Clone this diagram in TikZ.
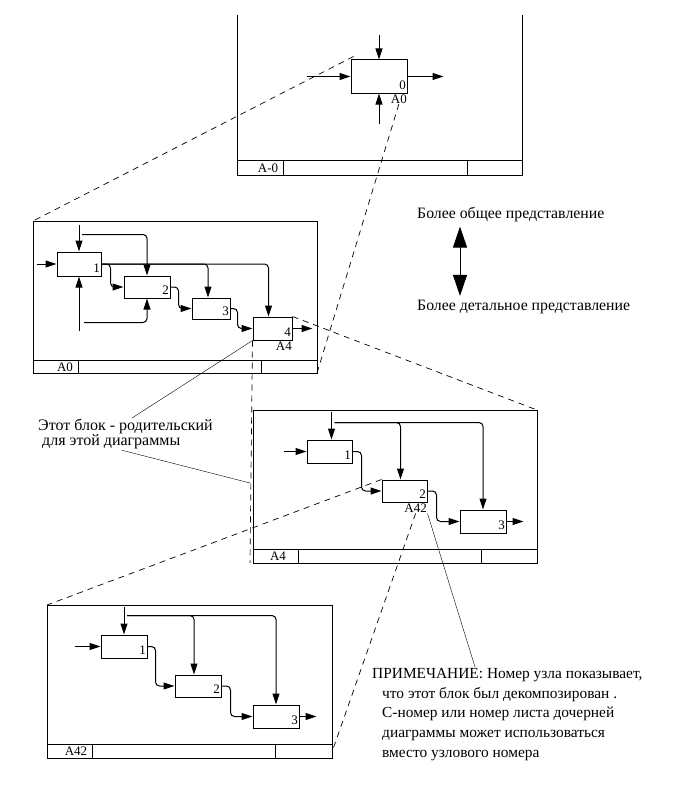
\documentclass[tikz,border=0pt]{standalone}
\usepackage{fontspec}
\setmainfont{Liberation Serif}
\usetikzlibrary{arrows.meta}

\tikzset{
  blk/.style={draw, line width=1pt, minimum width=46pt, minimum height=23pt, inner sep=0pt},
  boxno/.style={label={[font=\fontsize{13}{13}\selectfont, anchor=south east, inner xsep=1.5pt, inner ysep=3.5pt]south east:#1}},
  refl/.style={font=\fontsize{13}{13}\selectfont, inner sep=1pt},
  arr/.style={line width=1pt, -{Triangle[length=11pt,width=7pt]}},
  rc/.style={rounded corners=4pt},
  frm/.style={line width=1pt},
  lnk/.style={line width=0.7pt, dash pattern=on 6pt off 5pt},
  txt/.style={font=\fontsize{15.8}{19.7}\selectfont, inner sep=1pt, align=left},
  dbl/.style={line width=1pt, {Triangle[length=21pt,width=14pt]}-{Triangle[length=21pt,width=14pt]}, shorten <=3pt, shorten >=3pt},
}

\begin{document}
\begin{tikzpicture}[x=1pt, y=-1pt]
  \useasboundingbox (0,0) rectangle (674,808);

  % A-0 sheet
  \draw[frm] (237,15) -- (237,175) -- (522,175) -- (522,15);
  \draw[frm] (237,160) -- (522,160);
  \draw[frm] (283,160) -- (283,175);
  \draw[frm] (467,160) -- (467,175);
  \node[refl] (fa) at (268,168) {A-0};
  \node[blk, minimum width=56pt, minimum height=33pt, boxno=0] (t0) at (379,76.5) {};
  \node[refl, anchor=north east, inner sep=0.5pt] (t0ref) at ([yshift=-0.5pt]t0.south east) {A0};
  \draw[arr] (t0.west) ++(-44,0) -- (t0.west);
  \draw[arr] (t0.north) ++(0,-24) -- (t0.north);
  \draw[arr] (t0.south) ++(0,30) -- (t0.south);
  \draw[arr] (t0.east) -- ++(36,0);

  % A0 sheet
  \draw[frm] (33,221) rectangle (317,373);
  \draw[frm] (33,360) -- (317,360);
  \draw[frm] (78,360) -- (78,373);
  \draw[frm] (261,360) -- (261,373);
  \node[refl] (fb) at (65,367) {A0};
  \node[blk, minimum width=44pt, minimum height=24pt, boxno=1] (b1) at (79,264) {};
  \node[blk, minimum height=22pt, boxno=2] (b2) at (147,287) {};
  \node[blk, minimum width=38pt, minimum height=21pt, boxno=3] (b3) at (211,308.5) {};
  \node[blk, minimum width=39pt, boxno=4] (b4) at (272.5,328.5) {};
  \node[refl, anchor=north east, inner sep=0.5pt] (b4ref) at ([yshift=-1pt]b4.south east) {A4};
  \draw[arr] (b1.west) ++(-20,0) -- (b1.west);
  \draw[arr] (b1.north) ++(0,-27) -- (b1.north);
  \draw[arr, rc] (b1.north) ++(3,-17) -| (b2.north);
  \draw[arr] (b1.south) ++(0,54) -- (b1.south);
  \draw[arr, rc] (b1.south) ++(5,46) -| (b2.south);
  \draw[arr, rc] (b1.east) -| ([xshift=-4pt]b4.north);
  \draw[arr, rc] (b1.east) -| ([xshift=-3pt]b3.north);
  \draw[arr, rc] (b1.east) -- ++(9,0) |- (b2.west);
  \draw[arr, rc] (b2.east) -- ++(8,0) |- (b3.west);
  \draw[arr, rc] (b3.east) -- ++(7,0) |- (b4.west);
  \draw[arr] (b4.east) -- ++(20,0);

  % A4 sheet
  \draw[frm] (253,410) rectangle (537,563);
  \draw[frm] (253,549) -- (537,549);
  \draw[frm] (298,549) -- (298,563);
  \draw[frm] (481,549) -- (481,563);
  \node[refl] (fc) at (278,556) {A4};
  \node[blk, minimum width=45pt, boxno=1] (c1) at (329.5,451.5) {};
  \node[blk, minimum width=45pt, minimum height=22pt, boxno=2] (c2) at (404.5,491) {};
  \node[blk, boxno=3] (c3) at (483,521.5) {};
  \node[refl, anchor=north east, inner sep=0.5pt] (c2ref) at ([yshift=-1pt]c2.south east) {A42};
  \draw[arr] (c1.west) ++(-23,0) -- (c1.west);
  \draw[arr] ([xshift=2pt]c1.north) ++(0,-28) -- ([xshift=2pt]c1.north);
  \draw[arr, rc] ([xshift=2pt]c1.north) ++(3,-17) -| (c3.north);
  \draw[arr, rc] ([xshift=2pt]c1.north) ++(3,-17) -| ([xshift=-4pt]c2.north);
  \draw[arr, rc] (c1.east) -- ++(9,0) |- (c2.west);
  \draw[arr, rc] (c2.east) -- ++(9,0) |- (c3.west);
  \draw[arr] (c3.east) -- ++(17,0);

  % A42 sheet
  \draw[frm] (47,605) rectangle (332,758);
  \draw[frm] (47,744) -- (332,744);
  \draw[frm] (92,744) -- (92,758);
  \draw[frm] (275,744) -- (275,758);
  \node[refl] (fd) at (76,751) {A42};
  \node[blk, boxno=1] (d1) at (124,646.5) {};
  \node[blk, minimum height=22pt, boxno=2] (d2) at (198,686) {};
  \node[blk, boxno=3] (d3) at (276,716.5) {};
  \draw[arr] (d1.west) ++(-26,0) -- (d1.west);
  \draw[arr] (d1.north) ++(0,-28) -- (d1.north);
  \draw[arr, rc] (d1.north) ++(3,-19) -| (d3.north);
  \draw[arr, rc] (d1.north) ++(3,-19) -| ([xshift=-4pt]d2.north);
  \draw[arr, rc] (d1.east) -- ++(8,0) |- (d2.west);
  \draw[arr, rc] (d2.east) -- ++(9,0) |- (d3.west);
  \draw[arr] (d3.east) -- ++(17,0);

  % sheet corners
  \coordinate (f1tl) at (33,221);
  \coordinate (f1br) at (317,373);
  \coordinate (f2tr) at (537,410);
  \coordinate (f2bl) at (250,563);
  \coordinate (f2l) at (250,483);
  \coordinate (f3tl) at (47,605);
  \coordinate (f3br) at (332,752);

  % parent-child links
  \draw[lnk] ([yshift=3pt,xshift=3pt]t0.north west) -- (f1tl);
  \draw[lnk] (t0ref.south) -- (f1br);
  \draw[lnk] (b4.north east) -- (f2tr);
  \draw[lnk] (b4.south west) -- (f2bl);
  \draw[lnk] (c2.north west) -- (f3tl);
  \draw[lnk] (c2ref.south) -- (f3br);

  % notes
  \node[txt, anchor=west] (gen) at (416,215) {Более общее представление};
  \node[txt, anchor=west] (det) at (416,307) {Более детальное представление};
  \draw[dbl] ([xshift=44pt]gen.south west) -- ([xshift=44pt]det.north west);
  \node[txt, anchor=north west, font=\fontsize{16}{15}\selectfont] (note1) at (37,418)
    {Этот блок - родительский\\\hspace{4pt}для этой диаграммы};
  \node[txt, anchor=north west, font=\fontsize{15.4}{19.7}\selectfont] (note2) at (371,667)
    {ПРИМЕЧАНИЕ: Номер узла показывает,\\
     \hspace{10pt}что этот блок был декомпозирован .\\
     \hspace{10pt}С-номер или номер листа дочерней\\
     \hspace{10pt}диаграммы может использоваться\\
     \hspace{10pt}вместо узлового номера};
  \draw (b4.south west) -- ([xshift=95pt]note1.north west);
  \draw ([xshift=85pt]note1.south west) -- (f2l);
  \draw (c2ref.south east) -- ([xshift=104pt]note2.north west);
\end{tikzpicture}
\end{document}
